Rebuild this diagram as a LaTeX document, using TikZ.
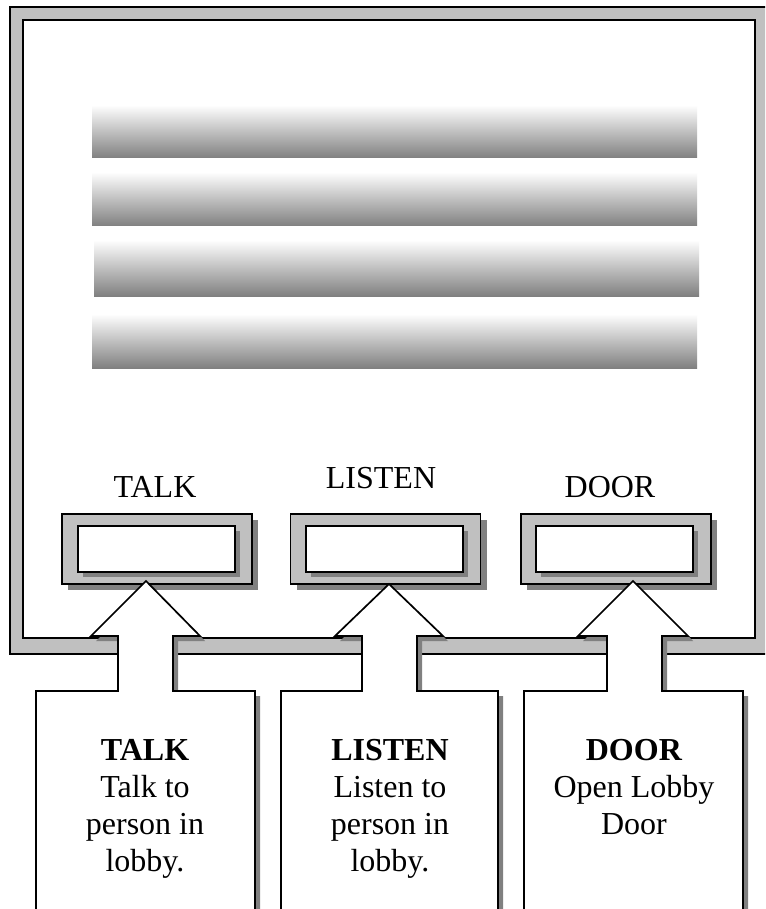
\documentclass[tikz,border=0pt]{standalone}
\usepackage{fontspec}
\setmainfont{Liberation Serif}
\usetikzlibrary{positioning}
\definecolor{frameGray}{RGB}{192,192,192}
\definecolor{shadeGray}{RGB}{128,128,128}

% callouts: box left / shaft left / head left / tip x / tip y / head right / shaft right / box right
\def\calloutList{36/118/91/146/581/200/173/255, 281/362/335/389/584/443/417/498, 524/607/578/633/581/688/662/743}

\begin{document}
\begin{tikzpicture}[
  x=1pt, y=-1pt,
  font=\fontsize{32}{37}\selectfont,
  frameLine/.style={draw=black, line width=1.7pt},
  btnOuter/.style={frameLine, fill=frameGray, inner sep=0pt,
                   minimum width=190pt, minimum height=70pt,
                   preaction={fill=shadeGray, draw=none,
                              transform canvas={shift={(6pt,-6pt)}}}},
  btnInner/.style={frameLine, fill=white, inner sep=0pt,
                   minimum width=157pt, minimum height=46pt,
                   preaction={fill=shadeGray, draw=none,
                              transform canvas={shift={(5pt,-5pt)}}}},
  barShade/.style={top color=white, bottom color=shadeGray},
  lbl/.style={anchor=base, inner sep=0pt},
  calloutShape/.style={frameLine, fill=white, line join=miter},
  calloutShadow/.style={fill=shadeGray},
  calloutTxt/.style={anchor=base, align=center, inner sep=0pt},
]
\useasboundingbox (0,0) rectangle (765,909);
\clip (0,0) rectangle (765,909);

% panel
\filldraw[frameLine, fill=frameGray] (10,7) rectangle (800,654);
\filldraw[frameLine, fill=white] (23,20) rectangle (755,638);

% display lines
\shade[barShade] (92,105) rectangle (697,158);
\shade[barShade] (92,172) rectangle (697,226);
\shade[barShade] (94,240) rectangle (699,296);
\shade[barShade] (92,314) rectangle (697,368);

% buttons
\node[lbl] (tTalk) at (155,497) {TALK};
\node[lbl] (tListen) at (381,488) {LISTEN};
\node[lbl] (tDoor) at (610,497) {DOOR};

\node[btnOuter] (bTalk) at (157,549) {};
\node[btnInner] (iTalk) at (156.5,549) {};
\node[btnOuter] (bListen) at (385.5,549) {};
\node[btnInner] (iListen) at (384.5,549) {};
\node[btnOuter] (bDoor) at (616,549) {};
\node[btnInner] (iDoor) at (614.5,549) {};

% callouts
\begin{scope}
  \clip (0,637) rectangle (765,909);
  \begin{scope}[shift={(5,5)}]
    \foreach \bl/\sl/\hl/\tx/\ty/\hr/\sr/\br in \calloutList
      \fill[calloutShadow] (\bl,950) |- (\sl,691) |- (\hl,636) -- (\tx,\ty)
        -- (\hr,636) -| (\sr,691) -| (\br,950) -- cycle;
  \end{scope}
\end{scope}
\foreach \bl/\sl/\hl/\tx/\ty/\hr/\sr/\br in \calloutList
  \draw[calloutShape] (\bl,950) |- (\sl,691) |- (\hl,636) -- (\tx,\ty)
    -- (\hr,636) -| (\sr,691) -| (\br,950) -- cycle;

% last line sits on the given baseline
\node[calloutTxt] (cTalk) at (145,871) {\textbf{TALK}\\Talk to\\person in\\lobby.};
\node[calloutTxt] (cListen) at (390,871) {\textbf{LISTEN}\\Listen to\\person in\\lobby.};
\node[calloutTxt] (cDoor) at (634,834) {\textbf{DOOR}\\Open Lobby\\Door};
\end{tikzpicture}
\end{document}
